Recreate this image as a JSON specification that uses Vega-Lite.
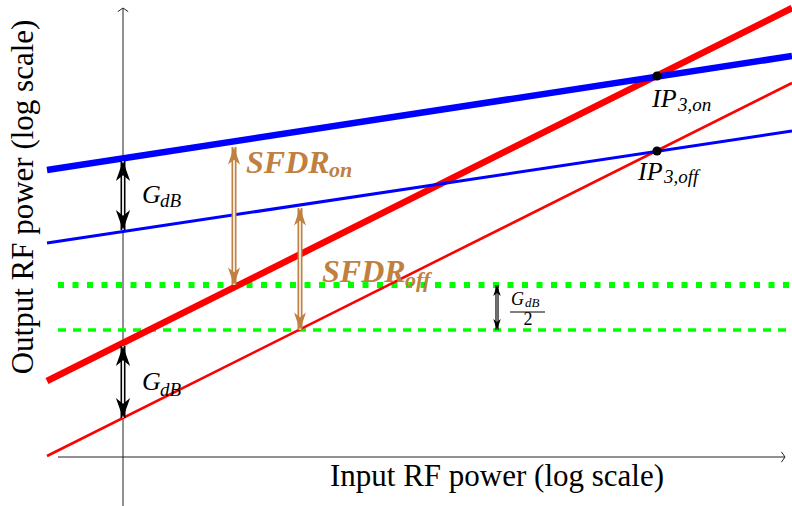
{
  "$schema": "https://vega.github.io/schema/vega-lite/v6.json",
  "width": 792,
  "height": 506,
  "autosize": {"type": "none"},
  "padding": 0,
  "background": "white",
  "config": {"view": {"stroke": null}},
  "datasets": {
    "curves": [
      {"curve": "on_fund", "x": 47, "y": 336}, {"curve": "on_fund", "x": 792, "y": 450},
      {"curve": "off_fund", "x": 47, "y": 263}, {"curve": "off_fund", "x": 792, "y": 375},
      {"curve": "on_im3", "x": 47, "y": 125}, {"curve": "on_im3", "x": 792, "y": 498},
      {"curve": "off_im3", "x": 47, "y": 50}, {"curve": "off_im3", "x": 792, "y": 423}
    ],
    "floors": [
      {"floor": "on", "x": 58, "y": 221}, {"floor": "on", "x": 792, "y": 221},
      {"floor": "off", "x": 58, "y": 176}, {"floor": "off", "x": 792, "y": 176}
    ],
    "axes": [
      {"axis": "y", "x": 123, "y": 0, "x2": 123, "y2": 498},
      {"axis": "x", "x": 58, "y": 49, "x2": 785, "y2": 49}
    ],
    "axisTips": [
      {"axis": "x", "x": 785, "y": 49},
      {"axis": "y", "x": 123, "y": 498}
    ],
    "spans": [
      {"span": "gain_fund", "group": "gain", "x": 123, "y": 276, "y2": 345},
      {"span": "gain_im3", "group": "gain", "x": 123, "y": 88, "y2": 160},
      {"span": "sfdr_on", "group": "sfdr", "x": 234, "y": 221, "y2": 359},
      {"span": "sfdr_off", "group": "sfdr", "x": 300, "y": 176, "y2": 298},
      {"span": "half_gain", "group": "half", "x": 497, "y": 176, "y2": 221}
    ],
    "ips": [
      {"ip": "on", "x": 657, "y": 430},
      {"ip": "off", "x": 657, "y": 355}
    ],
    "fracbar": [
      {"x": 510, "x2": 545, "y": 194}
    ],
    "labels": [
      {"role": "g", "x": 142, "y": 303, "text": "G"},
      {"role": "g", "x": 142, "y": 116, "text": "G"},
      {"role": "gsub", "x": 160, "y": 299, "text": "dB"},
      {"role": "gsub", "x": 160, "y": 110, "text": "dB"},
      {"role": "sfdr", "x": 246, "y": 333, "text": "SFDR"},
      {"role": "sfdr", "x": 322, "y": 224, "text": "SFDR"},
      {"role": "sfdrsub", "x": 329, "y": 329, "text": "on"},
      {"role": "sfdrsub", "x": 405, "y": 219, "text": "off"},
      {"role": "ip", "x": 652, "y": 399, "text": "IP"},
      {"role": "ip", "x": 638, "y": 326, "text": "IP"},
      {"role": "ipsub", "x": 678, "y": 395, "text": "3,on"},
      {"role": "ipsub", "x": 664, "y": 323, "text": "3,off"},
      {"role": "fg", "x": 511, "y": 201, "text": "G"},
      {"role": "fsub", "x": 525, "y": 199, "text": "dB"},
      {"role": "ftwo", "x": 528, "y": 181, "text": "2"},
      {"role": "xtitle", "x": 497, "y": 20, "text": "Input RF power (log scale)"},
      {"role": "ytitle", "x": 33, "y": 309, "text": "Output RF power (log scale)"}
    ]
  },
  "encoding": {
    "x": {"field": "x", "type": "quantitative", "scale": {"domain": [0, 792], "nice": false, "zero": false}, "axis": null},
    "y": {"field": "y", "type": "quantitative", "scale": {"domain": [0, 506], "nice": false, "zero": false}, "axis": null}
  },
  "layer": [
    {
      "data": {"name": "axes"},
      "mark": {"type": "rule", "color": "#222222", "strokeWidth": 1},
      "encoding": {"x2": {"field": "x2"}, "y2": {"field": "y2"}}
    },
    {
      "data": {"name": "axisTips"},
      "mark": {"type": "point", "filled": false, "color": "#222222", "strokeWidth": 1, "size": 64, "opacity": 1},
      "encoding": {"shape": {"field": "axis", "type": "nominal", "scale": {"domain": ["x", "y"], "range": ["M-0.9,-1.3L0,0L-0.9,1.3", "M-1.3,0.9L0,0L1.3,0.9"]}, "legend": null}}
    },
    {
      "data": {"name": "floors"},
      "transform": [{"filter": "datum.floor === 'on'"}],
      "mark": {"type": "line", "color": "#00FF00", "strokeWidth": 6, "strokeDash": [6, 8.5]},
      "encoding": {}
    },
    {
      "data": {"name": "floors"},
      "transform": [{"filter": "datum.floor === 'off'"}],
      "mark": {"type": "line", "color": "#00FF00", "strokeWidth": 3.5, "strokeDash": [8, 7]},
      "encoding": {}
    },
    {
      "data": {"name": "curves"},
      "transform": [{"filter": "datum.curve === 'on_im3'"}],
      "mark": {"type": "line", "color": "#FF0000", "strokeWidth": 6.5},
      "encoding": {}
    },
    {
      "data": {"name": "curves"},
      "transform": [{"filter": "datum.curve === 'off_im3'"}],
      "mark": {"type": "line", "color": "#FF0000", "strokeWidth": 2.6},
      "encoding": {}
    },
    {
      "data": {"name": "curves"},
      "transform": [{"filter": "datum.curve === 'on_fund'"}],
      "mark": {"type": "line", "color": "#0000FF", "strokeWidth": 6.5},
      "encoding": {}
    },
    {
      "data": {"name": "curves"},
      "transform": [{"filter": "datum.curve === 'off_fund'"}],
      "mark": {"type": "line", "color": "#0000FF", "strokeWidth": 3},
      "encoding": {}
    },
    {
      "data": {"name": "spans"},
      "transform": [{"filter": "datum.group === 'gain'"}],
      "mark": {"type": "rule", "color": "black", "strokeWidth": 5},
      "encoding": {"y2": {"field": "y2"}}
    },
    {
      "data": {"name": "spans"},
      "transform": [{"filter": "datum.group === 'gain'"}],
      "mark": {"type": "rule", "color": "white", "strokeWidth": 1.8},
      "encoding": {"y2": {"field": "y2"}}
    },
    {
      "data": {"name": "spans"},
      "transform": [{"filter": "datum.group === 'sfdr'"}],
      "mark": {"type": "rule", "color": "#BF8040", "strokeWidth": 5},
      "encoding": {"y2": {"field": "y2"}}
    },
    {
      "data": {"name": "spans"},
      "transform": [{"filter": "datum.group === 'sfdr'"}],
      "mark": {"type": "rule", "color": "white", "strokeWidth": 1.6},
      "encoding": {"y2": {"field": "y2"}}
    },
    {
      "data": {"name": "spans"},
      "transform": [{"filter": "datum.group === 'half'"}],
      "mark": {"type": "rule", "color": "black", "strokeWidth": 3.2},
      "encoding": {"y2": {"field": "y2"}}
    },
    {
      "data": {"name": "spans"},
      "transform": [{"filter": "datum.group === 'half'"}],
      "mark": {"type": "rule", "color": "#BBBBBB", "strokeWidth": 1.2},
      "encoding": {"y2": {"field": "y2"}}
    },
    {
      "data": {"name": "spans"},
      "transform": [{"filter": "datum.group === 'gain'"}],
      "mark": {"type": "point", "filled": true, "color": "black", "opacity": 1, "size": 361, "shape": "M0,0L0.75,2.1L0,1.5L-0.75,2.1Z"},
      "encoding": {"y": {"field": "y2", "type": "quantitative"}}
    },
    {
      "data": {"name": "spans"},
      "transform": [{"filter": "datum.group === 'gain'"}],
      "mark": {"type": "point", "filled": true, "color": "black", "opacity": 1, "size": 361, "shape": "M0,0L0.75,-2.1L0,-1.5L-0.75,-2.1Z"}
    },
    {
      "data": {"name": "spans"},
      "transform": [{"filter": "datum.group === 'sfdr'"}],
      "mark": {"type": "point", "filled": true, "color": "#BF8040", "opacity": 1, "size": 256, "shape": "M0,0L0.75,2.2L0,1.6L-0.75,2.2Z"},
      "encoding": {"y": {"field": "y2", "type": "quantitative"}}
    },
    {
      "data": {"name": "spans"},
      "transform": [{"filter": "datum.group === 'sfdr'"}],
      "mark": {"type": "point", "filled": true, "color": "#BF8040", "opacity": 1, "size": 256, "shape": "M0,0L0.75,-2.2L0,-1.6L-0.75,-2.2Z"}
    },
    {
      "data": {"name": "spans"},
      "transform": [{"filter": "datum.group === 'half'"}],
      "mark": {"type": "point", "filled": true, "color": "black", "opacity": 1, "size": 100, "shape": "M0,0L0.75,2.2L0,1.6L-0.75,2.2Z"},
      "encoding": {"y": {"field": "y2", "type": "quantitative"}}
    },
    {
      "data": {"name": "spans"},
      "transform": [{"filter": "datum.group === 'half'"}],
      "mark": {"type": "point", "filled": true, "color": "black", "opacity": 1, "size": 100, "shape": "M0,0L0.75,-2.2L0,-1.6L-0.75,-2.2Z"}
    },
    {
      "data": {"name": "ips"},
      "mark": {"type": "point", "filled": true, "color": "black", "opacity": 1, "size": 85, "shape": "circle"}
    },
    {
      "data": {"name": "fracbar"},
      "mark": {"type": "rule", "color": "black", "strokeWidth": 1},
      "encoding": {"x2": {"field": "x2"}}
    },
    {
      "data": {"name": "labels"},
      "transform": [{"filter": "datum.role === 'g'"}],
      "mark": {"type": "text", "font": "Liberation Serif", "fontStyle": "italic", "fontSize": 26, "align": "left", "baseline": "alphabetic", "color": "black"},
      "encoding": {"text": {"field": "text"}}
    },
    {
      "data": {"name": "labels"},
      "transform": [{"filter": "datum.role === 'gsub'"}],
      "mark": {"type": "text", "font": "Liberation Serif", "fontStyle": "italic", "fontSize": 19, "align": "left", "baseline": "alphabetic", "color": "black"},
      "encoding": {"text": {"field": "text"}}
    },
    {
      "data": {"name": "labels"},
      "transform": [{"filter": "datum.role === 'sfdr'"}],
      "mark": {"type": "text", "font": "Liberation Serif", "fontStyle": "italic", "fontWeight": "bold", "fontSize": 32, "align": "left", "baseline": "alphabetic", "color": "#BF8040"},
      "encoding": {"text": {"field": "text"}}
    },
    {
      "data": {"name": "labels"},
      "transform": [{"filter": "datum.role === 'sfdrsub'"}],
      "mark": {"type": "text", "font": "Liberation Serif", "fontStyle": "italic", "fontWeight": "bold", "fontSize": 22, "align": "left", "baseline": "alphabetic", "color": "#BF8040"},
      "encoding": {"text": {"field": "text"}}
    },
    {
      "data": {"name": "labels"},
      "transform": [{"filter": "datum.role === 'ip'"}],
      "mark": {"type": "text", "font": "Liberation Serif", "fontStyle": "italic", "fontSize": 26, "align": "left", "baseline": "alphabetic", "color": "black"},
      "encoding": {"text": {"field": "text"}}
    },
    {
      "data": {"name": "labels"},
      "transform": [{"filter": "datum.role === 'ipsub'"}],
      "mark": {"type": "text", "font": "Liberation Serif", "fontStyle": "italic", "fontSize": 19, "align": "left", "baseline": "alphabetic", "color": "black"},
      "encoding": {"text": {"field": "text"}}
    },
    {
      "data": {"name": "labels"},
      "transform": [{"filter": "datum.role === 'fg'"}],
      "mark": {"type": "text", "font": "Liberation Serif", "fontStyle": "italic", "fontSize": 18, "align": "left", "baseline": "alphabetic", "color": "black"},
      "encoding": {"text": {"field": "text"}}
    },
    {
      "data": {"name": "labels"},
      "transform": [{"filter": "datum.role === 'fsub'"}],
      "mark": {"type": "text", "font": "Liberation Serif", "fontStyle": "italic", "fontSize": 13, "align": "left", "baseline": "alphabetic", "color": "black"},
      "encoding": {"text": {"field": "text"}}
    },
    {
      "data": {"name": "labels"},
      "transform": [{"filter": "datum.role === 'ftwo'"}],
      "mark": {"type": "text", "font": "Liberation Serif", "fontSize": 18, "align": "center", "baseline": "alphabetic", "color": "black"},
      "encoding": {"text": {"field": "text"}}
    },
    {
      "data": {"name": "labels"},
      "transform": [{"filter": "datum.role === 'xtitle'"}],
      "mark": {"type": "text", "font": "Liberation Serif", "fontSize": 31, "align": "center", "baseline": "alphabetic", "color": "black"},
      "encoding": {"text": {"field": "text"}}
    },
    {
      "data": {"name": "labels"},
      "transform": [{"filter": "datum.role === 'ytitle'"}],
      "mark": {"type": "text", "font": "Liberation Serif", "fontSize": 31, "align": "center", "baseline": "alphabetic", "angle": 270, "color": "black"},
      "encoding": {"text": {"field": "text"}}
    }
  ]
}
